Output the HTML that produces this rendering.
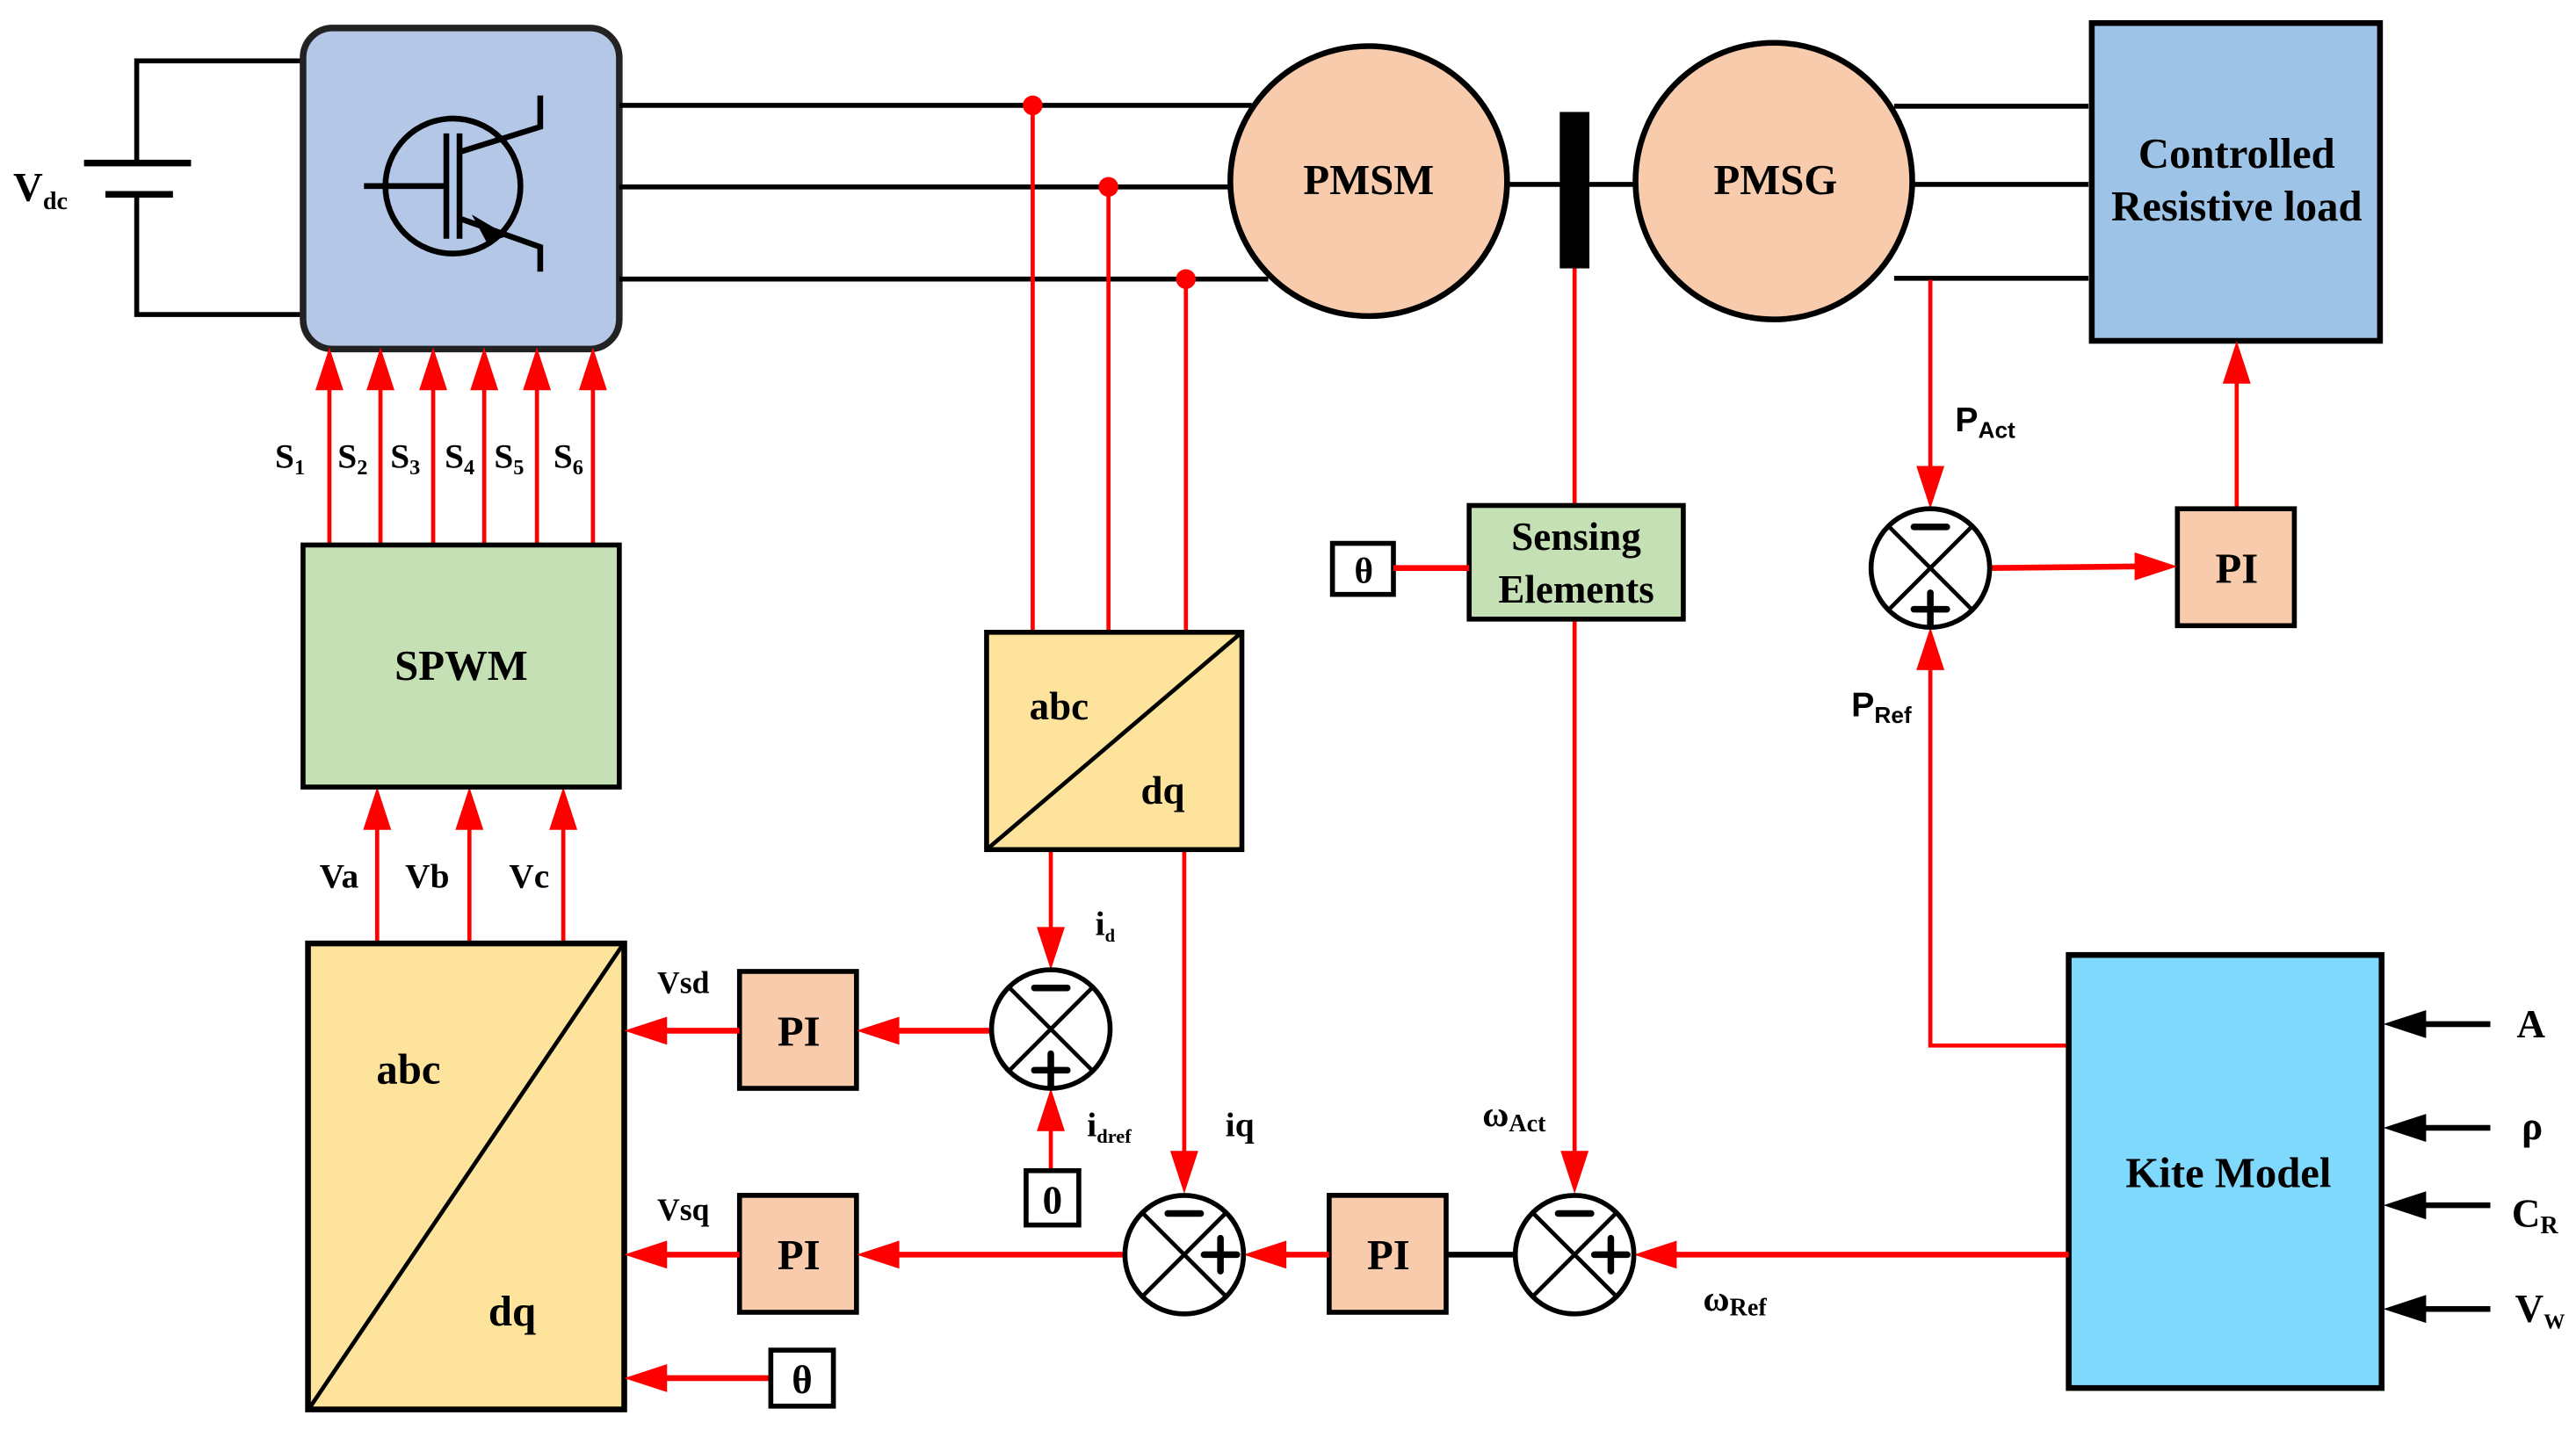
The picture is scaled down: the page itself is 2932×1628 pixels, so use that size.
<!DOCTYPE html>
<html><head><meta charset="utf-8"><style>
html,body{margin:0;padding:0;background:#fff;}
svg{display:block;}
text{font-family:"Liberation Serif",serif;font-weight:bold;fill:#000;}
.s{font-family:"Liberation Sans",sans-serif;}
</style></head><body>
<svg width="2932" height="1628" viewBox="0 0 1564 868.5" preserveAspectRatio="none" xmlns="http://www.w3.org/2000/svg">
<rect width="1564" height="868.5" fill="#fff"/>
<!-- battery -->
<g stroke="#000" stroke-width="3" fill="none">
<polyline points="184,37 83,37 83,99"/>
<polyline points="184,191 83,191 83,118"/>
<line x1="51" y1="99" x2="116" y2="99" stroke-width="4"/>
<line x1="64" y1="118" x2="105" y2="118" stroke-width="4"/>
</g>
<text x="8" y="122" font-size="25">V<tspan font-size="15" dy="5">dc</tspan></text>
<!-- inverter -->
<rect x="184" y="17" width="192" height="195" rx="18" fill="#B4C7E7" stroke="#222" stroke-width="4"/>
<g stroke="#000" stroke-width="3.5" fill="none">
<circle cx="275" cy="113" r="41"/>
<line x1="221" y1="113" x2="270" y2="113"/>
<line x1="271" y1="81" x2="271" y2="145"/>
<line x1="279" y1="81" x2="279" y2="145"/>
<polyline points="280,92 328,77 328,58"/>
<polyline points="280,133 328,150 328,165"/>
</g>
<polygon points="306,143 289,133 296,146" fill="#000" stroke="#000" stroke-width="2"/>
<!-- phase lines -->
<g stroke="#000" stroke-width="3">
<line x1="376" y1="64" x2="760" y2="64"/>
<line x1="376" y1="113.5" x2="750" y2="113.5"/>
<line x1="376" y1="169.5" x2="770" y2="169.5"/>
<line x1="1150" y1="64.5" x2="1268" y2="64.5"/>
<line x1="1160" y1="112" x2="1268" y2="112"/>
<line x1="1150" y1="169" x2="1268" y2="169"/>
<line x1="915" y1="112" x2="995" y2="112"/>
</g>
<!-- machines -->
<ellipse cx="831" cy="110" rx="84" ry="82" fill="#F7CBAC" stroke="#000" stroke-width="3.5"/>
<ellipse cx="1077" cy="110" rx="84" ry="84" fill="#F7CBAC" stroke="#000" stroke-width="3.5"/>
<text x="831" y="118" font-size="26" text-anchor="middle">PMSM</text>
<text x="1078" y="118" font-size="26" text-anchor="middle">PMSG</text>
<rect x="947" y="68" width="18" height="95" fill="#000"/>
<!-- load -->
<rect x="1270" y="14" width="175" height="193" fill="#9DC3E6" stroke="#000" stroke-width="3.5"/>
<text x="1358" y="102" font-size="26" text-anchor="middle">Controlled</text>
<text x="1358" y="134" font-size="26" text-anchor="middle">Resistive load</text>
<!-- red sense lines -->
<g stroke="#f00" stroke-width="2.5" fill="none">
<line x1="627" y1="64" x2="627" y2="384"/>
<line x1="673" y1="113.5" x2="673" y2="384"/>
<line x1="720" y1="169.5" x2="720" y2="384"/>
<line x1="956" y1="163" x2="956" y2="307"/>
<line x1="956" y1="376" x2="956" y2="705"/>
<line x1="1172" y1="170" x2="1172" y2="290"/>
<polyline points="1256,635 1172,635 1172,405"/>
<line x1="1358" y1="309" x2="1358" y2="232"/>
<line x1="638" y1="516" x2="638" y2="570"/>
<line x1="719" y1="516" x2="719" y2="706"/>
<line x1="638" y1="711" x2="638" y2="685"/>
</g>
<g fill="#f00">
<ellipse cx="627" cy="64" rx="6" ry="6"/>
<ellipse cx="673" cy="113.5" rx="6" ry="6"/>
<ellipse cx="720" cy="169.5" rx="6" ry="6"/>
</g>
<!-- S arrows -->
<g stroke="#f00" stroke-width="2.5">
<line x1="200" y1="331" x2="200" y2="235"/>
<line x1="231" y1="331" x2="231" y2="235"/>
<line x1="263" y1="331" x2="263" y2="235"/>
<line x1="294" y1="331" x2="294" y2="235"/>
<line x1="326" y1="331" x2="326" y2="235"/>
<line x1="360" y1="331" x2="360" y2="235"/>
<line x1="229" y1="572" x2="229" y2="500"/>
<line x1="285" y1="572" x2="285" y2="500"/>
<line x1="342" y1="572" x2="342" y2="500"/>
</g>
<g fill="#f00">
<polygon points="200,211 191.5,237 208.5,237"/>
<polygon points="231,211 222.5,237 239.5,237"/>
<polygon points="263,211 254.5,237 271.5,237"/>
<polygon points="294,211 285.5,237 302.5,237"/>
<polygon points="326,211 317.5,237 334.5,237"/>
<polygon points="360,211 351.5,237 368.5,237"/>
<polygon points="229,478 220.5,504 237.5,504"/>
<polygon points="285,478 276.5,504 293.5,504"/>
<polygon points="342,478 333.5,504 350.5,504"/>
</g>
<g font-size="21">
<text x="167" y="284">S<tspan font-size="13" dy="4">1</tspan></text>
<text x="205" y="284">S<tspan font-size="13" dy="4">2</tspan></text>
<text x="237" y="284">S<tspan font-size="13" dy="4">3</tspan></text>
<text x="270" y="284">S<tspan font-size="13" dy="4">4</tspan></text>
<text x="300" y="284">S<tspan font-size="13" dy="4">5</tspan></text>
<text x="336" y="284">S<tspan font-size="13" dy="4">6</tspan></text>
<text x="194" y="539">Va</text>
<text x="246" y="539">Vb</text>
<text x="309" y="539">Vc</text>
<text x="399" y="603" font-size="19">Vsd</text>
<text x="399" y="741" font-size="19">Vsq</text>
<text x="744" y="690" font-size="21">iq</text>
</g>
<!-- SPWM -->
<rect x="184" y="331" width="192" height="147" fill="#C5E0B4" stroke="#000" stroke-width="3"/>
<text x="280" y="413" font-size="26" text-anchor="middle">SPWM</text>
<!-- abc/dq small -->
<rect x="599" y="384" width="155" height="132" fill="#FDE39B" stroke="#000" stroke-width="3"/>
<line x1="599" y1="516" x2="754" y2="384" stroke="#000" stroke-width="2.5"/>
<text x="643" y="437" font-size="24" text-anchor="middle">abc</text>
<text x="706" y="488" font-size="24" text-anchor="middle">dq</text>
<!-- abc/dq big -->
<rect x="187" y="573" width="192" height="283" fill="#FDE39B" stroke="#000" stroke-width="3.5"/>
<line x1="188" y1="855" x2="378" y2="574" stroke="#000" stroke-width="2.5"/>
<text x="248" y="658" font-size="26" text-anchor="middle">abc</text>
<text x="311" y="805" font-size="26" text-anchor="middle">dq</text>
<!-- Sensing -->
<rect x="892" y="307" width="130" height="69" fill="#C5E0B4" stroke="#000" stroke-width="3"/>
<text x="957" y="334" font-size="24" text-anchor="middle">Sensing</text>
<text x="957" y="366" font-size="24" text-anchor="middle">Elements</text>
<rect x="809" y="330" width="37" height="31" fill="#fff" stroke="#000" stroke-width="3"/>
<text x="828" y="354" font-size="22" text-anchor="middle">θ</text>
<line x1="846" y1="345" x2="892" y2="345" stroke="#f00" stroke-width="3.5"/>
<!-- PI boxes -->
<g fill="#F7CBAC" stroke="#000" stroke-width="3">
<rect x="1322" y="309" width="71" height="71"/>
<rect x="449" y="590" width="71" height="71"/>
<rect x="449" y="726" width="71" height="71"/>
<rect x="807" y="726" width="71" height="71"/>
</g>
<g font-size="26" text-anchor="middle">
<text x="1358" y="354">PI</text>
<text x="485" y="635">PI</text>
<text x="485" y="771">PI</text>
<text x="843" y="771">PI</text>
</g>
<!-- Kite model -->
<rect x="1256" y="580" width="190" height="263" fill="#7FD9FD" stroke="#000" stroke-width="3.5"/>
<text x="1353" y="721" font-size="26" text-anchor="middle">Kite Model</text>
<g stroke="#000" stroke-width="3.5">
<line x1="1470" y1="622" x2="1512" y2="622"/>
<line x1="1470" y1="685" x2="1512" y2="685"/>
<line x1="1470" y1="732" x2="1512" y2="732"/>
<line x1="1470" y1="795" x2="1512" y2="795"/>
</g>
<g fill="#000">
<polygon points="1447,622 1473,613.5 1473,630.5"/>
<polygon points="1447,685 1473,676.5 1473,693.5"/>
<polygon points="1447,732 1473,723.5 1473,740.5"/>
<polygon points="1447,795 1473,786.5 1473,803.5"/>
</g>
<g font-size="24">
<text x="1528" y="630">A</text>
<text x="1531" y="692">ρ</text>
<text x="1525" y="745">C<tspan font-size="15" dy="4">R</tspan></text>
<text x="1527" y="803">V<tspan font-size="13" dy="4">W</tspan></text>
</g>
<!-- horizontal red lines -->
<g stroke="#f00" stroke-width="3.5">
<line x1="1207" y1="345" x2="1300" y2="344"/>
<line x1="449" y1="626" x2="400" y2="626"/>
<line x1="602" y1="626" x2="540" y2="626"/>
<line x1="449" y1="762" x2="400" y2="762"/>
<line x1="683" y1="762" x2="540" y2="762"/>
<line x1="807" y1="762" x2="775" y2="762"/>
<line x1="1256" y1="762" x2="1012" y2="762"/>
<line x1="468" y1="837" x2="400" y2="837"/>
</g>
<line x1="878" y1="762" x2="920" y2="762" stroke="#000" stroke-width="3.5"/>
<g fill="#f00">
<polygon points="1322,344 1296,335.5 1296,352.5"/>
<polygon points="379,626 405,617.5 405,634.5"/>
<polygon points="520,626 546,617.5 546,634.5"/>
<polygon points="379,762 405,753.5 405,770.5"/>
<polygon points="520,762 546,753.5 546,770.5"/>
<polygon points="755,762 781,753.5 781,770.5"/>
<polygon points="992,762 1018,753.5 1018,770.5"/>
<polygon points="379,837 405,828.5 405,845.5"/>
<polygon points="1358,207 1349.5,233 1366.5,233"/>
<polygon points="1172,309 1163.5,283 1180.5,283"/>
<polygon points="1172,381 1163.5,407 1180.5,407"/>
<polygon points="638,589 629.5,563 646.5,563"/>
<polygon points="638,661 629.5,687 646.5,687"/>
<polygon points="719,725 710.5,699 727.5,699"/>
<polygon points="956,725 947.5,699 964.5,699"/>
</g>
<!-- 0 and theta boxes -->
<rect x="623" y="711" width="32" height="33" fill="#fff" stroke="#000" stroke-width="3"/>
<text x="639" y="737" font-size="24" text-anchor="middle">0</text>
<rect x="468" y="820" width="38" height="34" fill="#fff" stroke="#000" stroke-width="3"/>
<text x="487" y="846" font-size="24" text-anchor="middle">θ</text>
<!-- sum junctions -->
<g stroke="#000" stroke-width="3" fill="#fff">
<circle cx="1172" cy="345" r="36"/>
<circle cx="638" cy="625" r="36"/>
<circle cx="719" cy="762" r="36"/>
<circle cx="956" cy="762" r="36"/>
</g>
<g stroke="#000" stroke-width="2.5">
<path d="M1146.5,319.5 L1197.5,370.5 M1197.5,319.5 L1146.5,370.5"/>
<path d="M612.5,599.5 L663.5,650.5 M663.5,599.5 L612.5,650.5"/>
<path d="M693.5,736.5 L744.5,787.5 M744.5,736.5 L693.5,787.5"/>
<path d="M930.5,736.5 L981.5,787.5 M981.5,736.5 L930.5,787.5"/>
</g>
<g stroke="#000" stroke-width="4" stroke-linecap="round">
<path d="M1162,320 h20 M1162,370 h20 M1172,360 v20"/>
<path d="M628,600 h20 M628,650 h20 M638,640 v20"/>
<path d="M709,737 h20 M731,762 h20 M741,752 v20"/>
<path d="M946,737 h20 M968,762 h20 M978,752 v20"/>
</g>
<!-- labels -->
<text class="s" x="1187" y="262" font-size="21">P<tspan font-size="14" dy="4">Act</tspan></text>
<text class="s" x="1124" y="435" font-size="21">P<tspan font-size="14" dy="4">Ref</tspan></text>
<text x="665" y="568" font-size="21">i<tspan font-size="11" dy="4">d</tspan></text>
<text x="660" y="690" font-size="21">i<tspan font-size="12" dy="4">dref</tspan></text>
<text x="900" y="684" font-size="22">ω<tspan font-size="15" dy="3">Act</tspan></text>
<text x="1034" y="796" font-size="22">ω<tspan font-size="15" dy="3">Ref</tspan></text>
</svg>
</body></html>
